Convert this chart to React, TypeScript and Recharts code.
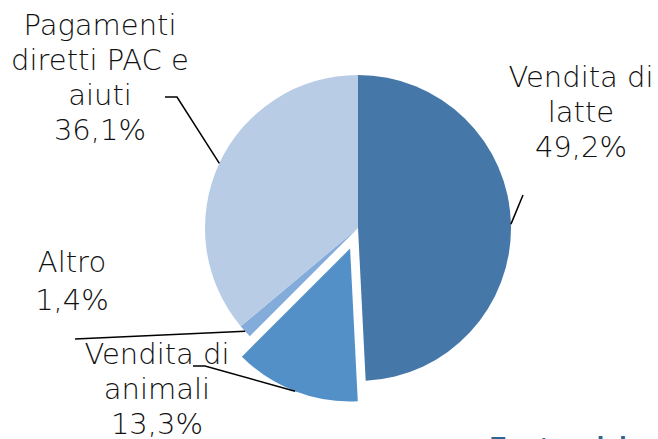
import { Pie, PieChart, Cell } from "recharts";

const CATEGORIES = ["Vendita di latte", "Vendita di animali", "Altro", "Pagamenti diretti PAC e aiuti"];
const LABEL_LINES = [["Vendita di", "latte"], ["Vendita di", "animali"], ["Altro"], ["Pagamenti", "diretti PAC e", "aiuti"]];
const SHARES = [49.2, 13.3, 1.4, 36.1];
const COLORS = ["#4677A9", "#5490C8", "#84ACDB", "#B8CCE6"];
const EXPLODED = 1;

const data = CATEGORIES.map((name, i) => ({ name, value: SHARES[i] }));

// label placement (text centre, first baseline, leader elbow points)
const LABELS = [
  { x: 581, y: 87, pts: [[523, 195]] },
  { x: 157, y: 364, pts: [[205, 366], [193, 366]] },
  { x: 72, y: 272, lh: 38, pts: [[75, 339]] },
  { x: 100, y: 35, pts: [[177, 97], [165, 97]] },
];

const CX = 358;
const CY = 228;
const R = 153;
const RAD = Math.PI / 180;

const total = SHARES.reduce((a, b) => a + b, 0);
const before = SHARES.slice(0, EXPLODED).reduce((a, b) => a + b, 0);
const midExploded = 90 - (360 * (before + SHARES[EXPLODED] / 2)) / total;
const OFF = 22;
const ECX = CX + OFF * Math.cos(midExploded * RAD);
const ECY = CY - OFF * Math.sin(midExploded * RAD);

const fmt = (v: number) => v.toFixed(1).replace(".", ",") + "%";

function makeLabel(onlyExploded: boolean) {
  return (props: any) => {
    const { cx, cy, midAngle, outerRadius, index } = props;
    if ((index === EXPLODED) !== onlyExploded) return null;
    const cfg = LABELS[index];
    const sx = cx + outerRadius * Math.cos(-midAngle * RAD);
    const sy = cy + outerRadius * Math.sin(-midAngle * RAD);
    const pts = [[sx, sy], ...cfg.pts].map((p) => p.join(",")).join(" ");
    const lines = [...LABEL_LINES[index], fmt(SHARES[index])];
    const lh = cfg.lh ?? 35;
    return (
      <g key={`lbl-${index}`}>
        <polyline points={pts} fill="none" stroke="#000" strokeWidth={1.5} />
        <text textAnchor="middle" fontSize={29} fill="#111" fontFamily="DejaVu Sans" fontWeight={300}>
          {lines.map((t, i) => (
            <tspan key={i} x={cfg.x} y={cfg.y + i * lh}>
              {t}
            </tspan>
          ))}
        </text>
      </g>
    );
  };
}

export default function App() {
  return (
    <div style={{ position: "absolute", left: 0, top: 0, width: 658, height: 439, background: "#fff", overflow: "hidden" }}>
      <PieChart width={658} height={439} margin={{ top: 0, right: 0, bottom: 0, left: 0 }}>
        <Pie
          data={data}
          dataKey="value"
          nameKey="name"
          cx={CX}
          cy={CY}
          outerRadius={R}
          startAngle={90}
          endAngle={-270}
          stroke="none"
          label={makeLabel(false)}
          labelLine={false}
          isAnimationActive={false}
        >
          {data.map((_, i) => (
            <Cell key={i} fill={i === EXPLODED ? "transparent" : COLORS[i]} />
          ))}
        </Pie>
        <Pie
          data={data}
          dataKey="value"
          nameKey="name"
          cx={ECX}
          cy={ECY}
          outerRadius={R}
          startAngle={90}
          endAngle={-270}
          stroke="none"
          label={makeLabel(true)}
          labelLine={false}
          isAnimationActive={false}
        >
          {data.map((_, i) => (
            <Cell key={i} fill={i === EXPLODED ? COLORS[i] : "transparent"} />
          ))}
        </Pie>
      </PieChart>
      <div
        style={{
          position: "absolute",
          left: 489,
          top: 432,
          fontFamily: "Lato",
          fontWeight: 700,
          fontSize: 30,
          color: "#2E6591",
          whiteSpace: "nowrap",
          lineHeight: 1,
        }}
      >
        Fonte: elaborazioni
      </div>
    </div>
  );
}
